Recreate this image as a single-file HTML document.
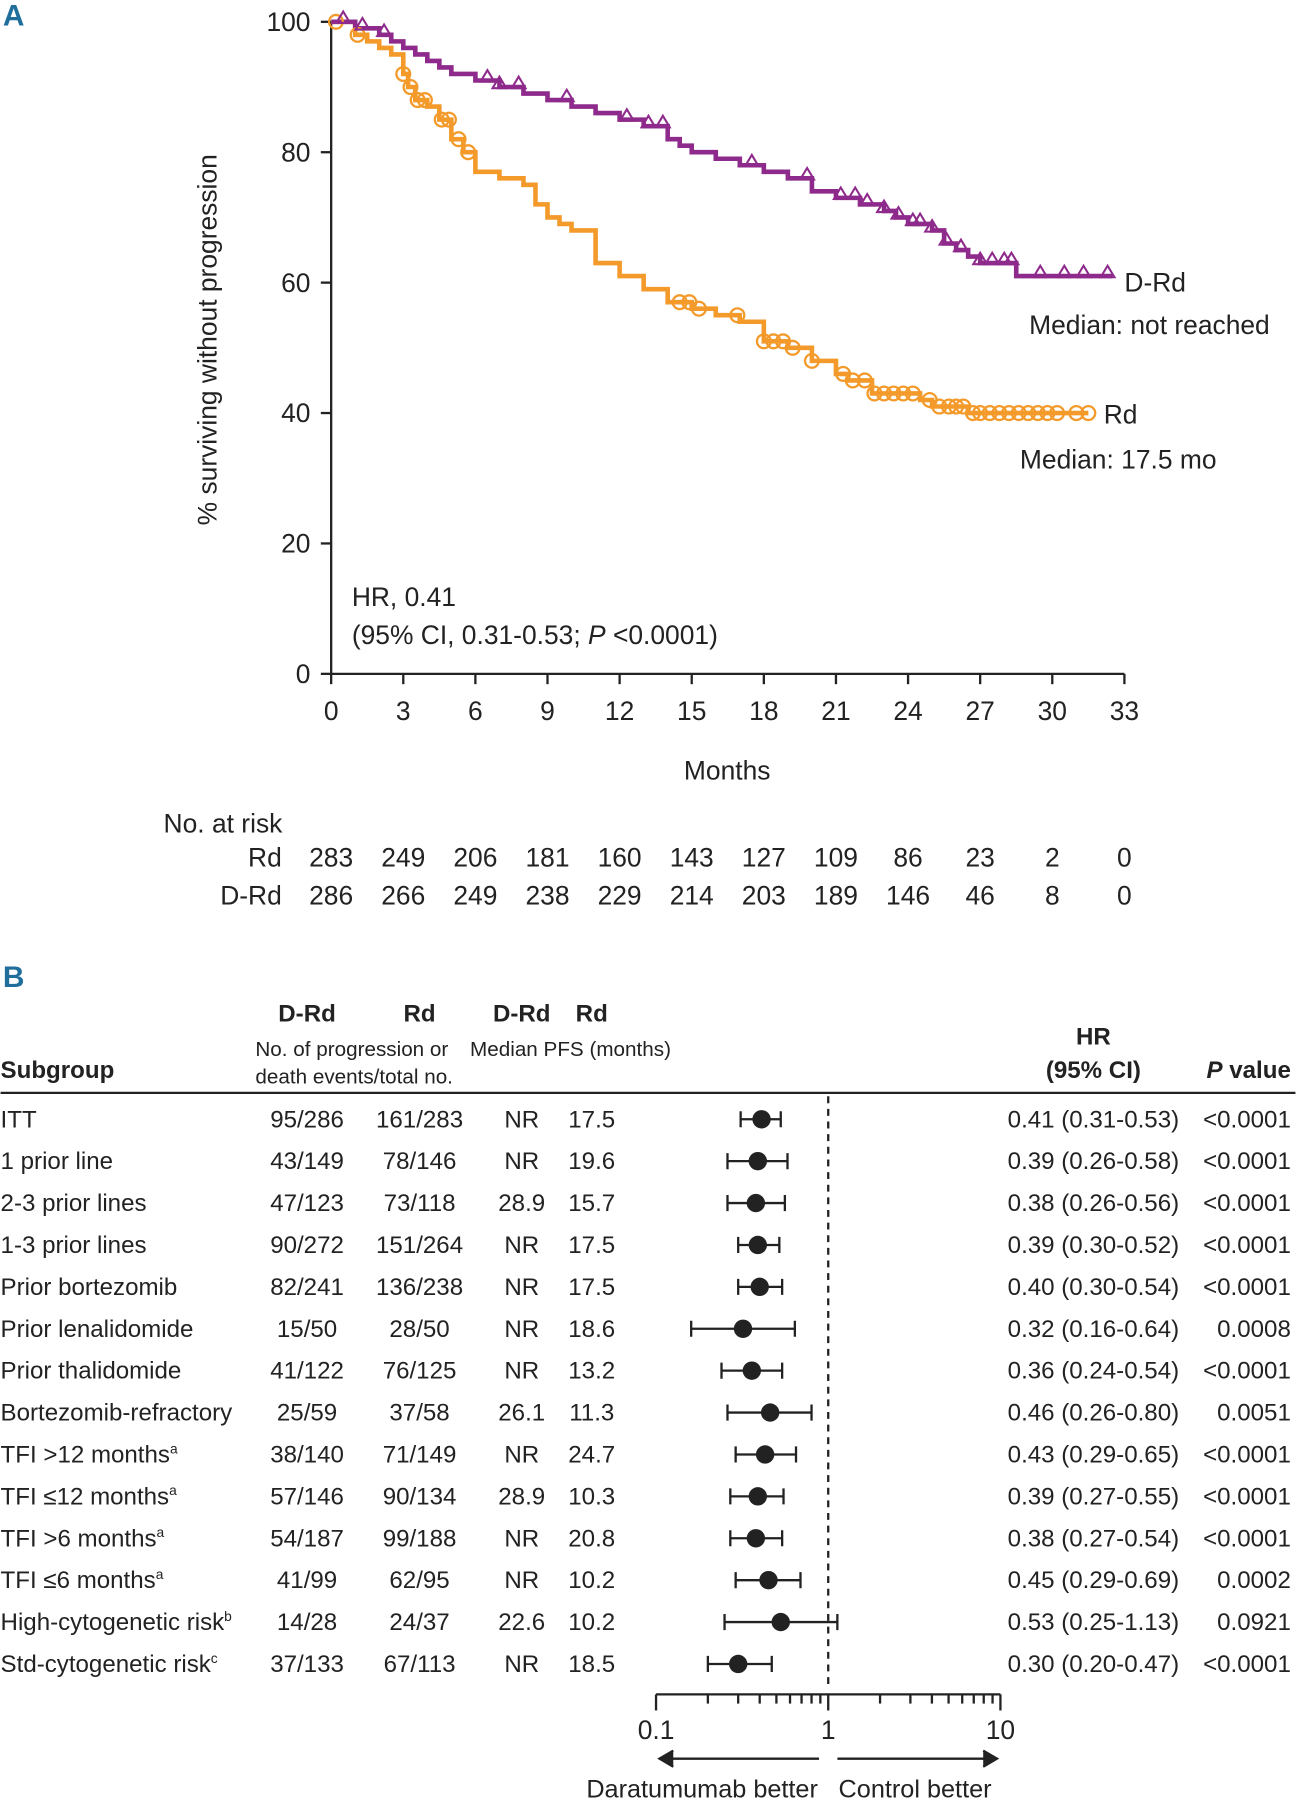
<!DOCTYPE html>
<html><head><meta charset="utf-8"><style>
html,body{margin:0;padding:0;background:#fff}
svg{display:block}
text{font-family:"Liberation Sans Narrow","Liberation Sans",sans-serif;fill:#222}
</style></head><body>
<svg id="fig" width="1296" height="1800" viewBox="0 0 1128 1568" xmlns="http://www.w3.org/2000/svg">
<g id="panelA"></g>
<g id="panelB"></g>
</svg>
<script>
// ---- KM data ----
const xTicks=[0,3,6,9,12,15,18,21,24,27,30,33];
const yTicks=[0,20,40,60,80,100];
const drdTimes=[0,1,2,2.5,3,3.5,4,4.5,5,6,7,8,9,10,11,12,13,14,14.5,15,16,17,18,19,20,21,22,23,23.5,24,25,25.5,26,26.5,27,28.5,32.5];
const drdSurv=[100,99,98,97,96,95,94,93,92,91,90,89,88,87,86,85,84,82,81,80,79,78,77,76,74,73,72,71,70,69,68,66,65,64,63,61,61];
const drdCensor=[0.5,1.3,2.2,6.5,7,7.8,9.8,12.3,13.2,13.8,17.5,19.8,21.2,21.8,22.3,23,23.6,24.2,24.5,25,25.6,26.2,27,27.5,28,28.3,29.5,30.5,31.3,32.3];
const rdTimes=[0,1,1.5,2,2.5,3,3.2,3.5,4,4.5,5,5.5,6,7,8,8.5,9,9.5,10,11,12,13,14,15,16,17,18,19,20,21,21.5,22.5,24.5,25,26.5,31.5];
const rdSurv=[100,98,97,96,95,92,90,88,87,85,82,80,77,76,75,72,70,69,68,63,61,59,57,56,55,54,51,50,48,46,45,43,42,41,40,40];
const rdCensor=[0.2,1.1,3,3.3,3.6,3.9,4.6,4.9,5.3,5.7,14.5,14.9,15.3,16.9,18,18.4,18.8,19.2,20,21.3,21.7,22.2,22.6,23,23.4,23.8,24.2,24.9,25.3,25.7,26,26.3,26.7,27,27.4,27.8,28.2,28.6,29,29.4,29.8,30.2,31,31.5];
const riskTimes=[0,3,6,9,12,15,18,21,24,27,30,33];
const riskRd=[283,249,206,181,160,143,127,109,86,23,2,0];
const riskDRd=[286,266,249,238,229,214,203,189,146,46,8,0];
// ---- Forest data ----
const subgroups=["ITT","1 prior line","2-3 prior lines","1-3 prior lines","Prior bortezomib","Prior lenalidomide","Prior thalidomide","Bortezomib-refractory","TFI >12 months","TFI ≤12 months","TFI >6 months","TFI ≤6 months","High-cytogenetic risk","Std-cytogenetic risk"];
const supers=["","","","","","","","","a","a","a","a","b","c"];
const eventsDRd=["95/286","43/149","47/123","90/272","82/241","15/50","41/122","25/59","38/140","57/146","54/187","41/99","14/28","37/133"];
const eventsRd=["161/283","78/146","73/118","151/264","136/238","28/50","76/125","37/58","71/149","90/134","99/188","62/95","24/37","67/113"];
const medDRd=["NR","NR","28.9","NR","NR","NR","NR","26.1","NR","28.9","NR","NR","22.6","NR"];
const medRd=["17.5","19.6","15.7","17.5","17.5","18.6","13.2","11.3","24.7","10.3","20.8","10.2","10.2","18.5"];
const hr=[0.41,0.39,0.38,0.39,0.40,0.32,0.36,0.46,0.43,0.39,0.38,0.45,0.53,0.30];
const lo=[0.31,0.26,0.26,0.30,0.30,0.16,0.24,0.26,0.29,0.27,0.27,0.29,0.25,0.20];
const hi=[0.53,0.58,0.56,0.52,0.54,0.64,0.54,0.80,0.65,0.55,0.54,0.69,1.13,0.47];
const pvals=["<0.0001","<0.0001","<0.0001","<0.0001","<0.0001","0.0008","<0.0001","0.0051","<0.0001","<0.0001","<0.0001","0.0002","0.0921","<0.0001"];

const NS="http://www.w3.org/2000/svg";
function mk(parent,tag,attrs,txt){const e=document.createElementNS(NS,tag);for(const k in attrs)e.setAttribute(k,attrs[k]);if(txt!==undefined)e.textContent=txt;parent.appendChild(e);return e;}
const A=document.getElementById('panelA'),B=document.getElementById('panelB');
const X=t=>288+t*(979-288)/33, Y=s=>587-s*(587-19)/100;

let e;
e=mk(A,'text',{x:2,y:22,'font-size':26,'font-weight':'bold',style:'fill:#1f6e9c'},'A');


// axes
e=mk(A,'line',{x1:288,y1:19,x2:288,y2:587,stroke:'#222','stroke-width':2});


e=mk(A,'line',{x1:288,y1:587,x2:979,y2:587,stroke:'#222','stroke-width':2});


yTicks.forEach(v=>{mk(A,'line',{x1:279,y1:Y(v),x2:288,y2:Y(v),stroke:'#222','stroke-width':2});
 e=mk(A,'text',{x:270,y:Y(v)+8,'font-size':23,'text-anchor':'end'},v);
 
 });
xTicks.forEach(v=>{mk(A,'line',{x1:X(v),y1:587,x2:X(v),y2:596,stroke:'#222','stroke-width':2});
 e=mk(A,'text',{x:X(v),y:627,'font-size':23,'text-anchor':'middle'},v);
 
 });
e=mk(A,'text',{x:633,y:679,'font-size':23,'text-anchor':'middle'},'Months');


e=mk(A,'text',{x:0,y:0,'font-size':23,'text-anchor':'middle',transform:'translate(188,296) rotate(-90)'},'% surviving without progression');


function stepPath(ts,ss){let d=`M${X(ts[0])},${Y(ss[0])}`;for(let i=1;i<ts.length;i++){d+=` H${X(ts[i])} V${Y(ss[i])}`;}return d;}
function survAt(ts,ss,t){let s=ss[0];for(let i=0;i<ts.length;i++){if(ts[i]<=t)s=ss[i];}return s;}
e=mk(A,'path',{d:stepPath(rdTimes,rdSurv),fill:'none',stroke:'#f39a2b','stroke-width':4});


e=mk(A,'path',{d:stepPath(drdTimes,drdSurv),fill:'none',stroke:'#8e2a8b','stroke-width':4});


rdCensor.forEach(t=>{e=mk(A,'circle',{cx:X(t),cy:Y(survAt(rdTimes,rdSurv,t)),r:6,fill:'none',stroke:'#f39a2b','stroke-width':2});
 
 });
drdCensor.forEach(t=>{const cx=X(t),cy=Y(survAt(drdTimes,drdSurv,t));
 e=mk(A,'path',{d:`M${cx-6},${cy+1} L${cx},${cy-9} L${cx+6},${cy+1} Z`,fill:'none',stroke:'#8e2a8b','stroke-width':1.8});
 
 });
const lab=(x,y,t,n,extra)=>{e=mk(A,'text',Object.assign({x:x,y:y,'font-size':23},extra||{}),t);return e;};
lab(979,254,'D-Rd','drd-label');
lab(896,291,'Median: not reached','drd-median');
lab(961,369,'Rd','rd-label');
lab(888,408,'Median: 17.5 mo','rd-median');
lab(306,528,'HR, 0.41','hr-text');
e=lab(306,561,'(95% CI, 0.31-0.53; ','ci-text');
mk(e,'tspan',{'font-style':'italic'},'P');
mk(e,'tspan',{},' <0.0001)');
lab(142,725,'No. at risk','risk-title');
lab(245,755,'Rd','risk-rd-label',{'text-anchor':'end'});
lab(245,788,'D-Rd','risk-drd-label',{'text-anchor':'end'});
riskTimes.forEach((t,i)=>{lab(X(t),755,riskRd[i],'risk-rd-count',{'text-anchor':'middle'});lab(X(t),788,riskDRd[i],'risk-drd-count',{'text-anchor':'middle'});});

// ---- Panel B ----
const FX=v=>721+150*Math.log10(v);
const rowY=i=>975+i*36.5;
const bt=(x,y,t,n,extra)=>{e=mk(B,'text',Object.assign({x:x,y:y,'font-size':21},extra||{}),t);return e;};
bt(2,860,'B','panel-b-label',{'font-size':26,'font-weight':'bold',style:'fill:#1f6e9c'});
bt(267,890,'D-Rd','header-drd',{'text-anchor':'middle','font-weight':'bold'});
bt(365,890,'Rd','header-rd',{'text-anchor':'middle','font-weight':'bold'});
bt(454,890,'D-Rd','header-med-drd',{'text-anchor':'middle','font-weight':'bold'});
bt(515,890,'Rd','header-med-rd',{'text-anchor':'middle','font-weight':'bold'});
bt(222,920,'No. of progression or','header-events',{'font-size':18});
bt(222,944,'death events/total no.','header-events2',{'font-size':18});
bt(409,920,'Median PFS (months)','header-median',{'font-size':18});
bt(0,939,'Subgroup','header-subgroup',{'font-weight':'bold'});
bt(952,910,'HR','header-hr',{'text-anchor':'middle','font-weight':'bold'});
bt(952,939,'(95% CI)','header-ci',{'text-anchor':'middle','font-weight':'bold'});
e=bt(1124,939,'','header-p',{'text-anchor':'end','font-weight':'bold'});
mk(e,'tspan',{'font-style':'italic'},'P');mk(e,'tspan',{},' value');
e=mk(B,'line',{x1:0,y1:952,x2:1128,y2:952,stroke:'#222','stroke-width':2});


e=mk(B,'line',{x1:FX(1),y1:955,x2:FX(1),y2:1468,stroke:'#222','stroke-width':2,'stroke-dasharray':'6,5'});


subgroups.forEach((s,i)=>{const y=rowY(i)+7;
 e=bt(0,y,s,'subgroup-label');if(supers[i])mk(e,'tspan',{'font-size':12,dy:-8},supers[i]);
 bt(267,y,eventsDRd[i],'events-drd',{'text-anchor':'middle'});
 bt(365,y,eventsRd[i],'events-rd',{'text-anchor':'middle'});
 bt(454,y,medDRd[i],'median-drd',{'text-anchor':'middle'});
 bt(515,y,medRd[i],'median-rd',{'text-anchor':'middle'});
 bt(952,y,hr[i].toFixed(2)+' ('+lo[i].toFixed(2)+'-'+hi[i].toFixed(2)+')','hr-ci-text',{'text-anchor':'middle'});
 bt(1124,y,pvals[i],'p-value',{'text-anchor':'end'});
 const cy=rowY(i);
 e=mk(B,'path',{d:`M${FX(lo[i])},${cy-7}V${cy+7}M${FX(lo[i])},${cy}H${FX(hi[i])}M${FX(hi[i])},${cy-7}V${cy+7}`,stroke:'#222','stroke-width':2,fill:'none'});
 
 
 e=mk(B,'circle',{cx:FX(hr[i]),cy:cy,r:8,fill:'#222'});
 
 
});
e=mk(B,'line',{x1:FX(0.1),y1:1476,x2:FX(10),y2:1476,stroke:'#222','stroke-width':2});


[0.1,0.2,0.3,0.4,0.5,0.6,0.7,0.8,0.9,1,2,3,4,5,6,7,8,9,10].forEach(v=>{const major=(v===0.1||v===1||v===10);
 mk(B,'line',{x1:FX(v),y1:1476,x2:FX(v),y2:major?1490:1484,stroke:'#222','stroke-width':2});});
[0.1,1,10].forEach(v=>bt(FX(v),1515,v,'forest-tick-label',{'text-anchor':'middle','font-size':23}));
e=mk(B,'path',{d:`M713,1532H574M586,1525L574,1532L586,1539`,stroke:'#222','stroke-width':2,fill:'#222'});


e=mk(B,'path',{d:`M729,1532H868M856,1525L868,1532L856,1539`,stroke:'#222','stroke-width':2,fill:'#222'});


bt(712,1566,'Daratumumab better','left-favor-label',{'text-anchor':'end','font-size':22});
bt(730,1566,'Control better','right-favor-label',{'font-size':22});
</script>
</body></html>
